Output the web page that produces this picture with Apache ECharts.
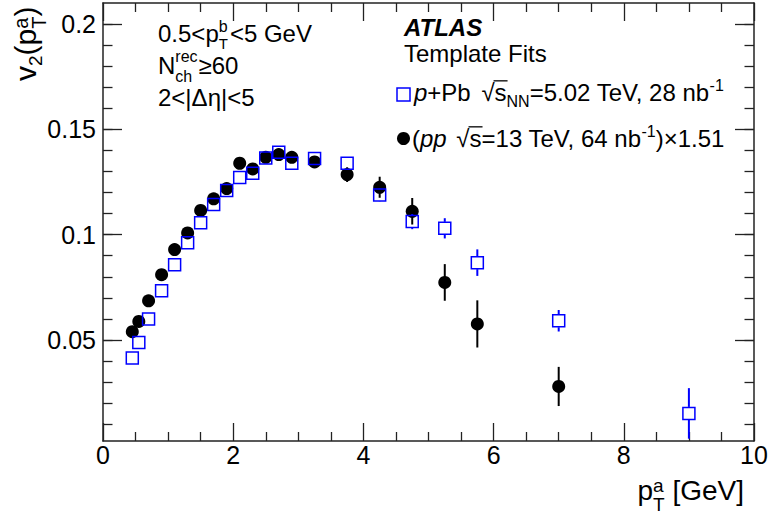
<!DOCTYPE html>
<html>
<head>
<meta charset="utf-8">
<script src="https://cdn.jsdelivr.net/npm/echarts@6/dist/echarts.min.js"></script>
<style>
html,body{margin:0;padding:0;background:#fff;}
#c{width:771px;height:519px;}
</style>
</head>
<body>
<div id="c"></div>
<script>
// ---- data ----
const ppX   = [0.45,0.55,0.7,0.9,1.1,1.3,1.5,1.7,1.9,2.1,2.3,2.5,2.7,2.9,3.25,3.75,4.25,4.75,5.25,5.75,7.0];
const ppV   = [0.0539,0.0588,0.0686,0.0810,0.0929,0.1008,0.1115,0.1170,0.1219,0.1339,0.1312,0.1367,0.1380,0.1367,0.1345,0.1285,0.1225,0.1111,0.0773,0.0576,0.0279];
const ppErr = [0.0010,0.0010,0.0010,0.0010,0.0010,0.0012,0.0012,0.0013,0.0014,0.0015,0.0016,0.0018,0.0020,0.0020,0.0022,0.0035,0.0050,0.0063,0.0087,0.0112,0.0093];

const pPbX   = [0.45,0.55,0.7,0.9,1.1,1.3,1.5,1.7,1.9,2.1,2.3,2.5,2.7,2.9,3.25,3.75,4.25,4.75,5.25,5.75,7.0,9.0];
const pPbV   = [0.0414,0.0488,0.0599,0.0734,0.0857,0.0962,0.1057,0.1143,0.1209,0.1271,0.1291,0.1364,0.1391,0.1339,0.1362,0.1339,0.1188,0.1062,0.1030,0.0867,0.0591,0.0151];
const pPbErr = [0.0005,0.0005,0.0005,0.0005,0.0006,0.0006,0.0007,0.0008,0.0009,0.0010,0.0011,0.0012,0.0013,0.0014,0.0016,0.0020,0.0032,0.0036,0.0048,0.0063,0.0051,0.0120];

const xTicksMajor = [0,2,4,6,8,10];
const yTicksMajor = [0.05,0.1,0.15,0.2];
const yTicksMinor = [0.01,0.02,0.03,0.04,0.05,0.06,0.07,0.08,0.09,0.1,0.11,0.12,0.13,0.14,0.15,0.16,0.17,0.18,0.19,0.2];

// ---- helpers ----
const FF = '"Liberation Sans", Arial, Helvetica, sans-serif';
const BLUE = '#0000ff';
const mctx = document.createElement('canvas').getContext('2d');
function W(p){ mctx.font = (p.st||'normal')+' '+(p.wt||'normal')+' '+p.s+'px '+FF; return mctx.measureText(p.t).width; }
function mk(x, base, p){
  return {type:'text', x:x, y:base - 0.3465*p.s, silent:true,
    style:{text:p.t, fontSize:p.s, fontFamily:FF, fontStyle:p.st||'normal', fontWeight:p.wt||'normal',
           fill:p.c||'#000', align:'left', verticalAlign:'middle'}};
}
function run(x0, base, parts, defS){
  let x = x0; const els = [];
  parts.forEach(p0 => {
    if (p0.stack){
      let mw = 0;
      p0.stack.forEach(q0 => { const q = Object.assign({s:defS}, q0); els.push(mk(x, base+(q.dy||0), q)); mw = Math.max(mw, W(q)); });
      x += mw + (p0.pad||0);
    } else {
      const p = Object.assign({s:defS}, p0);
      const w = W(p);
      els.push(mk(x + (p.pre||0), base+(p.dy||0), p));
      if (p.over){
        els.push({type:'line', silent:true, shape:{x1:x-1, y1:base-0.84*p.s, x2:x+w+1, y2:base-0.84*p.s}, style:{stroke:'#000', lineWidth:1.3}});
      }
      x += w + (p.pre||0) + (p.post||0);
    }
  });
  return {els, width:x-x0};
}

const graphics = [];
// top-left labels
graphics.push(...run(158, 42, [{t:'0.5<p'}, {stack:[{t:'b', s:16, dy:-10},{t:'T', s:15, dy:7}], pad:2}, {t:'<5 GeV'}], 24).els);
graphics.push(...run(158, 74, [{t:'N'}, {stack:[{t:'rec', s:16, dy:-12},{t:'ch', s:16, dy:8}], pad:1}, {t:'≥60'}], 24).els);
graphics.push(...run(158, 106, [{t:'2<|Δη|<5'}], 24).els);
// ATLAS block
graphics.push(...run(404, 36, [{t:'ATLAS', st:'italic', wt:'bold'}], 24).els);
graphics.push(...run(404, 62, [{t:'Template Fits'}], 24).els);
// legend
graphics.push({type:'rect', silent:true, shape:{x:397, y:88, width:13, height:13}, style:{fill:'none', stroke:BLUE, lineWidth:1.5}});
graphics.push({type:'circle', silent:true, shape:{cx:403.5, cy:138.5, r:6.5}, style:{fill:'#000'}});
graphics.push(...run(414, 101, [{t:'p', st:'italic'}, {t:'+Pb ', post:4}, {t:'√'}, {t:'s', over:true}, {t:'NN', s:16, dy:6}, {t:'=5.02 TeV, 28 nb'}, {t:'-1', s:16, dy:-10}], 24).els);
graphics.push(...run(412, 147, [{t:'('}, {t:'pp', st:'italic'}, {t:' ', post:3}, {t:'√'}, {t:'s', over:true}, {t:'=13 TeV, 64 nb'}, {t:'-1', s:16, dy:-10}, {t:')×1.51'}], 24).els);
// y axis title (rotated)
const yT = run(0, 0, [{t:'v'}, {t:'2', s:19, dy:6}, {t:'(p'}, {stack:[{t:'a', s:20, dy:-8},{t:'T', s:20, dy:10}]}, {t:')'}], 30);
graphics.push({type:'group', x:36, y:81, rotation:Math.PI/2, children:yT.els});
// x axis title
const xT = run(0, 0, [{t:'p'}, {stack:[{t:'a', s:19, dy:-8},{t:'T', s:19, dy:11}]}, {t:' [GeV]'}], 28);
graphics.push({type:'group', x:744 - xT.width, y:500, children:xT.els});

// ---- chart ----
const chart = echarts.init(document.getElementById('c'), null, {renderer:'svg'});
const axisCol = '#222';
function xAxisDef(pos, showLabel){
  return {type:'value', position:pos, min:0, max:10, interval:2,
    axisLine:{show:true, onZero:false, lineStyle:{color:axisCol, width:1.5}},
    axisTick:{show:true, inside:true, length:18, lineStyle:{color:axisCol, width:1.3}},
    minorTick:{show:true, splitNumber:4, length:9, lineStyle:{color:axisCol, width:1.3}},
    axisLabel:{show:showLabel, fontSize:25, color:'#000', fontFamily:FF, margin:1, showMinLabel:true, showMaxLabel:true, hideOverlap:false},
    splitLine:{show:false}};
}
function yAxisDef(pos, major, showLabel, showLine){
  return {type:'value', position:pos, min:0.002, max:0.21,
    axisLine:{show:showLine, onZero:false, lineStyle:{color:axisCol, width:1.5}},
    axisTick:{show:true, inside:true, length:major?19:9.5, customValues: major?yTicksMajor:yTicksMinor, lineStyle:{color:axisCol, width:1.3}},
    axisLabel:{show:showLabel, customValues:yTicksMajor, fontSize:25, color:'#000', fontFamily:FF, margin:7},
    splitLine:{show:false}};
}

function errRender(color, gap){
  return function(params, api){
    const x = api.value(0), y = api.value(1), e = api.value(2);
    const c = api.coord([x, y]), hi = api.coord([x, y+e]), lo = api.coord([x, y-e]);
    const ch = [];
    if (gap === 0){
      ch.push({type:'line', shape:{x1:c[0], y1:hi[1], x2:c[0], y2:lo[1]}, style:{stroke:color, lineWidth:2}});
    } else {
      if (c[1]-gap > hi[1]) ch.push({type:'line', shape:{x1:c[0], y1:hi[1], x2:c[0], y2:c[1]-gap}, style:{stroke:color, lineWidth:2}});
      if (lo[1] > c[1]+gap) ch.push({type:'line', shape:{x1:c[0], y1:c[1]+gap, x2:c[0], y2:lo[1]}, style:{stroke:color, lineWidth:2}});
    }
    return {type:'group', children:ch};
  };
}

const ppData = ppX.map((x,i)=>[x, ppV[i], ppErr[i]]);
const pPbData = pPbX.map((x,i)=>[x, pPbV[i], pPbErr[i]]);

chart.setOption({
  animation:false,
  backgroundColor:'#fff',
  grid:{left:103, right:17, top:3, bottom:78, containLabel:false, outerBoundsMode:'none'},
  xAxis:[xAxisDef('bottom', true), xAxisDef('top', false)],
  yAxis:[yAxisDef('left', true, true, true), yAxisDef('left', false, false, false),
         yAxisDef('right', true, false, true), yAxisDef('right', false, false, false)],
  series:[
    {type:'custom', name:'pp err', data:ppData, xAxisIndex:0, yAxisIndex:0, encode:{x:0, y:1}, renderItem:errRender('#000', 0), z:2, clip:false},
    {type:'scatter', name:'pp', data:ppData, xAxisIndex:0, yAxisIndex:0, symbol:'circle', symbolSize:13, itemStyle:{color:'#000', opacity:1}, z:3},
    {type:'custom', name:'pPb err', data:pPbData, xAxisIndex:0, yAxisIndex:0, encode:{x:0, y:1}, renderItem:errRender(BLUE, 6.5), z:4, clip:false},
    {type:'scatter', name:'pPb', data:pPbData, xAxisIndex:0, yAxisIndex:0, symbol:'rect', symbolSize:12, itemStyle:{color:'rgba(255,255,255,0)', borderColor:BLUE, borderWidth:1.5, opacity:1}, z:5}
  ],
  graphic:graphics
});
</script>
</body>
</html>
